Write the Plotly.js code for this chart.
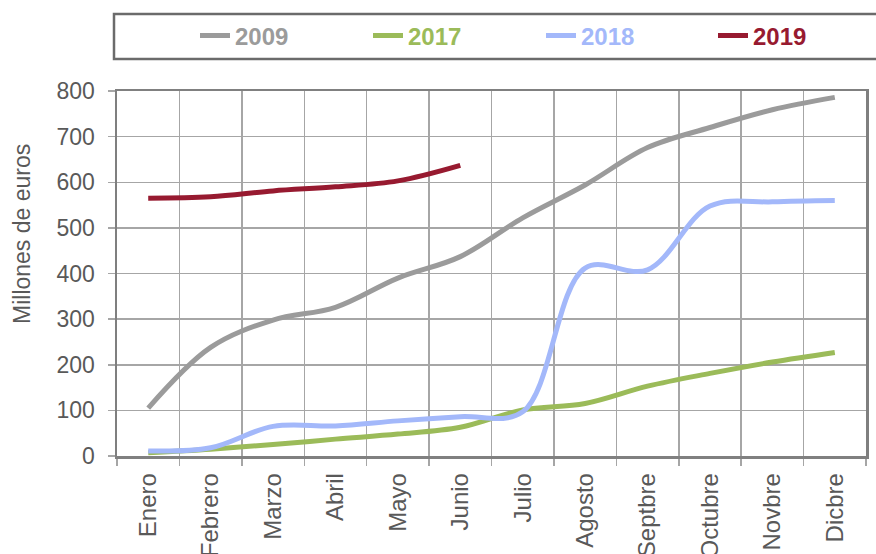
<!DOCTYPE html>
<html>
<head>
<meta charset="utf-8">
<script src="https://cdn.plot.ly/plotly-3.0.1.min.js"></script>
<style>html,body{margin:0;padding:0;background:#fff;}#chart{width:876px;height:554px;}</style>
</head>
<body>
<div id="chart"></div>
<script>
var months = ['Enero','Febrero','Marzo','Abril','Mayo','Junio','Julio','Agosto','Septbre','Octubre','Novbre','Dicbre'];
var seriesNames = ['2009','2017','2018','2019'];
var y2009 = [105, 238, 298, 326, 390, 437, 522, 594, 676, 720, 759, 786];
var y2017 = [7, 15, 25, 37, 48, 63, 101, 115, 153, 181, 206, 227];
var y2018 = [11, 18, 65, 66, 77, 86, 97, 412, 408, 548, 557, 560];
var y2019 = [565, 568, 581, 590, 603, 637];
var yTicks = [0, 100, 200, 300, 400, 500, 600, 700, 800];
var yTitle = 'Millones de euros';

var colors = ['#9b9b9b', '#9bbb59', '#a3b8fa', '#971a30'];
var values = [y2009, y2017, y2018, y2019];
var legendIds = ['legend', 'legend2', 'legend3', 'legend4'];
var legendLeftPx = [195, 368, 541, 713];

var traces = values.map(function (v, i) {
  return {
    x: months.slice(0, v.length),
    y: v,
    type: 'scatter',
    mode: 'lines',
    name: '<span style="color:' + colors[i] + '">' + seriesNames[i] + '</span>',
    legend: legendIds[i],
    line: {color: colors[i], width: 5, shape: 'spline', smoothing: 1},
    hoverinfo: 'x+y'
  };
});

var layout = {
  width: 876,
  height: 554,
  margin: {l: 117, r: 10, t: 91, b: 98, autoexpand: false},
  paper_bgcolor: '#ffffff',
  plot_bgcolor: '#ffffff',
  font: {family: 'Liberation Sans, Arial, sans-serif', color: '#595959', size: 22},
  showlegend: true,
  shapes: [{
    type: 'rect', xref: 'paper', yref: 'paper',
    x0: (114 - 117) / 749, x1: (900 - 117) / 749,
    y0: (456 - 59) / 365, y1: (456 - 14) / 365,
    line: {color: '#6b6b6b', width: 2.5},
    fillcolor: 'rgba(0,0,0,0)'
  }],
  annotations: [{
    text: yTitle,
    xref: 'paper', yref: 'paper',
    x: (22 - 117) / 749, y: (456 - 234) / 365,
    xanchor: 'center', yanchor: 'middle',
    textangle: -90,
    showarrow: false,
    font: {size: 23, color: '#595959'}
  }],
  xaxis: {
    type: 'category',
    categoryorder: 'array',
    categoryarray: months,
    range: [-0.5, 11.5],
    tickson: 'boundaries',
    ticks: 'outside',
    ticklen: 7,
    tickcolor: '#a6a6a6',
    tickwidth: 1.5,
    tickangle: -90,
    tickfont: {size: 24, color: '#595959'},
    ticklabelstandoff: 5,
    showgrid: true,
    gridcolor: '#a6a6a6',
    gridwidth: 1.5,
    showline: true,
    linecolor: '#808080',
    linewidth: 2.5,
    mirror: true,
    automargin: false,
    fixedrange: true
  },
  yaxis: {
    range: [0, 800],
    tickvals: yTicks,
    ticktext: yTicks.map(String),
    ticks: 'outside',
    ticklen: 7,
    tickcolor: '#a6a6a6',
    tickwidth: 1.5,
    tickfont: {size: 23, color: '#595959'},
    ticklabelstandoff: 8,
    showgrid: true,
    gridcolor: '#a6a6a6',
    gridwidth: 1.5,
    zeroline: false,
    showline: true,
    linecolor: '#7f7f7f',
    linewidth: 2.5,
    mirror: true,
    automargin: false,
    fixedrange: true
  }
};

legendIds.forEach(function (id, i) {
  layout[id] = {
    orientation: 'h',
    x: (legendLeftPx[i] - 117) / 749,
    xanchor: 'left',
    y: (456 - 36) / 365,
    yanchor: 'middle',
    bgcolor: 'rgba(0,0,0,0)',
    borderwidth: 0,
    font: {family: 'Liberation Sans, Arial, sans-serif', size: 24, weight: 'bold'},
    itemclick: false
  };
});

Plotly.newPlot('chart', traces, layout, {displayModeBar: false, staticPlot: true});
</script>
</body>
</html>
